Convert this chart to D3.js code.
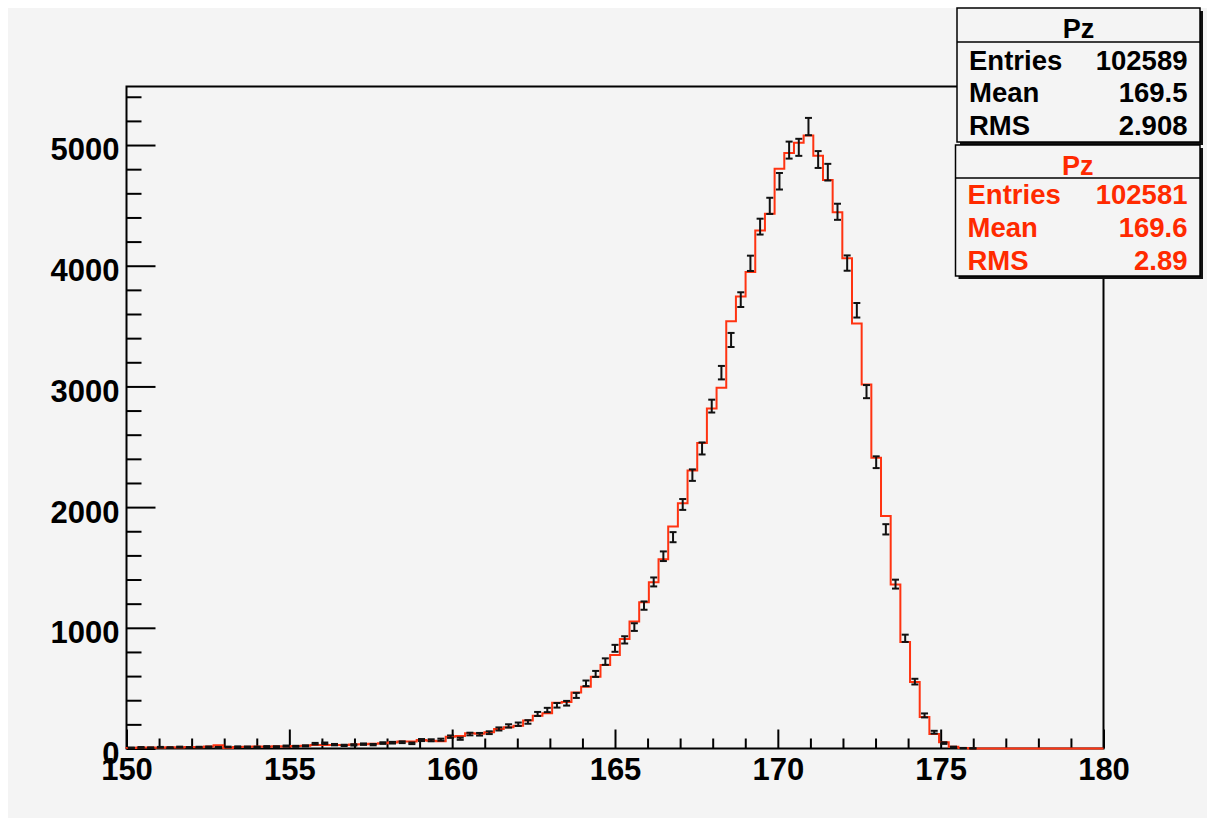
<!DOCTYPE html>
<html>
<head>
<meta charset="utf-8">
<script src="https://cdn.jsdelivr.net/npm/d3@7"></script>
<style>
  html, body { margin: 0; padding: 0; background: #ffffff; }
  svg { display: block; }
  text { font-family: "Liberation Sans", Arial, Helvetica, sans-serif; font-weight: bold; }
</style>
</head>
<body>
<svg id="canvas" width="1215" height="826"></svg>
<script>
// ---- histogram definition: 101 bins over [150, 180] ----
const xRange = [150, 180];
const nBins = 101;
const yMax = 5485;

// ---- axis ticks ----
const xMajorTicks = [150, 155, 160, 165, 170, 175, 180];
const xMinorTicks = d3.range(150, 181, 1);
const yMajorTicks = [0, 1000, 2000, 3000, 4000, 5000];
const yMinorTicks = d3.range(0, 5401, 200);

// ---- bin contents: Pz with error bars (black) ----
const pzPoints = [
  6, 9, 7, 10, 8, 12, 9, 11, 13, 10,
  12, 14, 13, 12, 16, 15, 20, 18, 22, 40,
  43, 32, 26, 30, 36, 32, 45, 48, 52, 43,
  70, 68, 73, 98, 81, 120, 118, 131, 162, 187,
  201, 220, 286, 319, 358, 375, 440, 540, 618, 720,
  830, 900, 1006, 1184, 1380, 1593, 1751, 2022, 2265, 2486,
  2837, 3114, 3385, 3719, 4020, 4324, 4496, 4700, 4958, 4981,
  5153, 4880, 4775, 4447, 4022, 3631, 2957, 2372, 1816, 1362,
  913, 554, 274, 135, 45, 12, 3, 1, 0, 0,
  0, 0, 0, 0, 0, 0, 0, 0, 0, 0, 0
];

// ---- bin contents: Pz drawn as a line histogram (red) ----
const pzLine = [
  5, 8, 9, 7, 10, 9, 12, 10, 16, 27,
  5, 12, 14, 16, 14, 18, 16, 20, 22, 30,
  28, 30, 30, 33, 36, 40, 44, 50, 58, 57,
  70, 65, 60, 98, 104, 126, 123, 134, 162, 176,
  189, 231, 272, 292, 380, 386, 463, 512, 595, 692,
  775, 908, 1052, 1212, 1378, 1569, 1839, 2033, 2304, 2531,
  2818, 2989, 3539, 3746, 3948, 4291, 4430, 4803, 4935, 5018,
  5080, 4911, 4710, 4444, 4063, 3521, 3016, 2410, 1926, 1359,
  882, 550, 260, 121, 52, 15, 5, 0, 0, 0,
  0, 0, 0, 0, 0, 0, 0, 0, 0, 0, 0
];

// ---- statistics boxes ----
const statsTitle = "Pz";
const statsLabels = ["Entries", "Mean", "RMS"];
const statsPoints = ["102589", "169.5", "2.908"];
const statsLine = ["102581", "169.6", "2.89"];

// ---- layout ----
const frame = { l: 126.5, r: 1103.5, t: 86.5, b: 748.5 };
const RED = "#ff3311";
const RED_TEXT = "#ff2a00";
const PAD = "#f4f4f4";

const svg = d3.select("#canvas");

svg.append("rect")
  .attr("x", 8).attr("y", 8).attr("width", 1199).attr("height", 810)
  .attr("fill", PAD);

const x = d3.scaleLinear().domain(xRange).range([frame.l, frame.r]);
const y = d3.scaleLinear().domain([0, yMax]).range([frame.b, frame.t]);
const binWidth = (xRange[1] - xRange[0]) / nBins;

// ---- axes ----
function styleAxis(g) {
  g.select(".domain").remove();
  g.selectAll(".tick line").attr("stroke", "#000").attr("stroke-width", 2);
}

const xMinor = xMinorTicks.filter(v => !xMajorTicks.includes(v));
const yMinor = yMinorTicks.filter(v => !yMajorTicks.includes(v));

svg.append("g")
  .attr("transform", `translate(0,${frame.b})`)
  .call(d3.axisBottom(x).tickValues(xMinor).tickSize(-10).tickSizeOuter(0).tickFormat(""))
  .call(styleAxis);

const gx = svg.append("g")
  .attr("transform", `translate(0,${frame.b})`)
  .call(d3.axisBottom(x).tickValues(xMajorTicks).tickSize(-19).tickSizeOuter(0)
    .tickPadding(9.5).tickFormat(d3.format("d")))
  .call(styleAxis);
gx.selectAll("text")
  .attr("font-size", 31).attr("fill", "#000")
  .style("font-family", "'Liberation Sans', Arial, sans-serif").style("font-weight", "bold");

svg.append("g")
  .attr("transform", `translate(${frame.l},0)`)
  .call(d3.axisLeft(y).tickValues(yMinor).tickSize(-15).tickSizeOuter(0).tickFormat(""))
  .call(styleAxis);

const gy = svg.append("g")
  .attr("transform", `translate(${frame.l},0)`)
  .call(d3.axisLeft(y).tickValues(yMajorTicks).tickSize(-29).tickSizeOuter(0)
    .tickPadding(7).tickFormat(d3.format("d")))
  .call(styleAxis);
gy.selectAll("text")
  .attr("font-size", 31).attr("fill", "#000").attr("dy", "0.48em")
  .style("font-family", "'Liberation Sans', Arial, sans-serif").style("font-weight", "bold");

// ---- frame ----
svg.append("rect")
  .attr("x", frame.l).attr("y", frame.t)
  .attr("width", frame.r - frame.l).attr("height", frame.b - frame.t)
  .attr("fill", "none").attr("stroke", "#000").attr("stroke-width", 2);

// ---- red line histogram ----
const stepPts = [[xRange[0], 0]];
pzLine.forEach((v, i) => {
  const lo = xRange[0] + i * binWidth;
  stepPts.push([lo, v], [lo + binWidth, v]);
});
stepPts.push([xRange[1], 0]);

svg.append("path")
  .attr("d", d3.line().x(d => x(d[0])).y(d => y(d[1]))(stepPts))
  .attr("fill", "none")
  .attr("stroke", RED)
  .attr("stroke-width", 2)
  .attr("stroke-linejoin", "miter");

// ---- black points with Poisson error bars ----
const pts = pzPoints
  .map((v, i) => ({ c: xRange[0] + (i + 0.5) * binWidth, v }))
  .filter(d => d.v > 0);

const eb = svg.append("g").attr("stroke", "#111").attr("stroke-width", 2);
const cap = 3.5;
pts.forEach(d => {
  const e = Math.sqrt(d.v);
  const cx = x(d.c);
  const y1 = y(d.v - e), y2 = y(d.v + e);
  eb.append("line").attr("x1", cx).attr("x2", cx).attr("y1", y1).attr("y2", y2);
  eb.append("line").attr("x1", cx - cap).attr("x2", cx + cap).attr("y1", y1).attr("y2", y1);
  eb.append("line").attr("x1", cx - cap).attr("x2", cx + cap).attr("y1", y2).attr("y2", y2);
});

// ---- statistics boxes ----
function statsBox(box, color, values) {
  const g = svg.append("g");
  g.append("rect")
    .attr("x", box.x + 3).attr("y", box.y + 3).attr("width", box.w).attr("height", box.h)
    .attr("fill", "#111");
  g.append("rect")
    .attr("x", box.x).attr("y", box.y).attr("width", box.w).attr("height", box.h)
    .attr("fill", PAD).attr("stroke", "#000").attr("stroke-width", 1.5);
  g.append("line")
    .attr("x1", box.x).attr("x2", box.x + box.w)
    .attr("y1", box.sep).attr("y2", box.sep)
    .attr("stroke", "#000").attr("stroke-width", 1.5);
  g.append("text")
    .attr("x", box.x + box.w / 2).attr("y", box.titleY)
    .attr("text-anchor", "middle").attr("font-size", 27).attr("fill", color)
    .text(statsTitle);
  statsLabels.forEach((lab, i) => {
    g.append("text")
      .attr("x", box.x + 12).attr("y", box.rowY[i])
      .attr("font-size", 27.5).attr("fill", color).text(lab);
    g.append("text")
      .attr("x", box.x + box.w - 12.5).attr("y", box.rowY[i])
      .attr("text-anchor", "end").attr("font-size", 27.5).attr("fill", color).text(values[i]);
  });
}

statsBox({ x: 957, y: 8, w: 243, h: 134, sep: 42, titleY: 37.5, rowY: [69.5, 102, 135] },
  "#000", statsPoints);
statsBox({ x: 955.5, y: 145, w: 244.5, h: 131, sep: 178, titleY: 175, rowY: [204, 237, 269.5] },
  RED_TEXT, statsLine);
</script>
</body>
</html>
